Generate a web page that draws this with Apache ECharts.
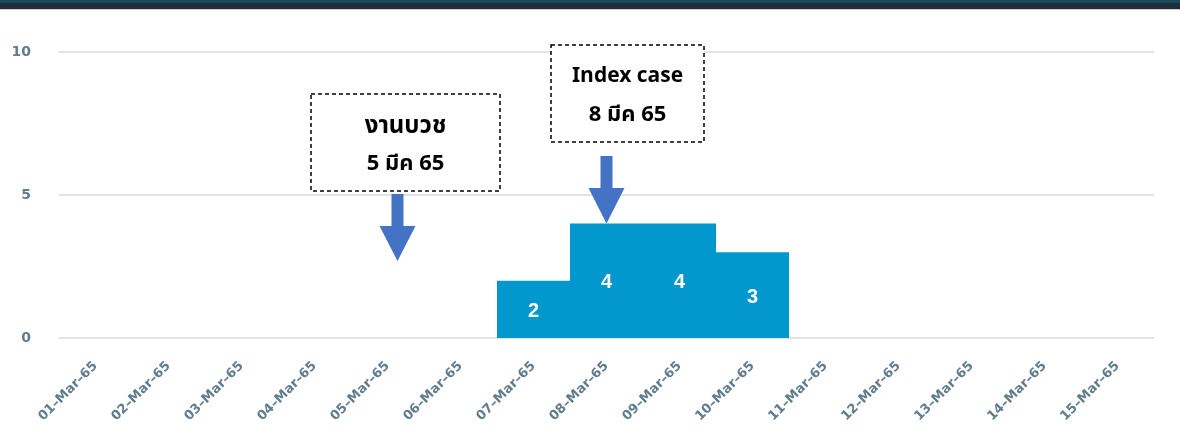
<!DOCTYPE html>
<html><head><meta charset="utf-8">
<script src="https://cdn.jsdelivr.net/npm/echarts@6/dist/echarts.min.js"></script>
<style>html,body{margin:0;padding:0;background:#fff}#c{width:1180px;height:429px}</style>
</head><body><div id="c"></div>
<script>
const categories = ['01–Mar–65','02–Mar–65','03–Mar–65','04–Mar–65','05–Mar–65','06–Mar–65','07–Mar–65','08–Mar–65','09–Mar–65','10–Mar–65','11–Mar–65','12–Mar–65','13–Mar–65','14–Mar–65','15–Mar–65'];
const cases = [null,null,null,null,null,null,2,4,4,3,null,null,null,null,null];
const yTicks = [0,5,10];
const notes = [
  {lines:['งานบวช','5 มีค 65'], cat:'05–Mar–65'},
  {lines:['Index case','8 มีค 65'], cat:'08–Mar–65'}
];

const chart = echarts.init(document.getElementById('c'), null, {renderer:'canvas'});
const thaiFont = '"Noto Sans Thai","Noto Sans","Liberation Sans",sans-serif';
chart.setOption({
  animation:false,
  grid:{left:59,right:26,top:52,bottom:91},
  xAxis:{type:'category',data:categories,
    axisLine:{show:false},axisTick:{show:false},
    axisLabel:{rotate:45,margin:26,color:'#5f7d8e',fontSize:13,fontWeight:'bold',fontFamily:'"DejaVu Sans",sans-serif',interval:0}},
  yAxis:{type:'value',min:yTicks[0],max:yTicks[yTicks.length-1],interval:5,
    axisLabel:{color:'#5f7d8e',fontSize:14,fontWeight:'bold',margin:28,fontFamily:'"DejaVu Sans",sans-serif'},
    splitLine:{lineStyle:{color:'#e0e4e7',width:2}}},
  series:[{type:'bar',data:cases,barCategoryGap:'0%',
    itemStyle:{color:'#0398cd'},
    label:{show:true,position:'inside',offset:[0,2],color:'#fff',fontSize:20,fontWeight:'bold',fontFamily:'"Liberation Sans",Arial,sans-serif'}}]
});

function arrow(cx, top, headStart, tip){
  return {type:'polygon',shape:{points:[[cx-6,top],[cx+6,top],[cx+6,headStart],[cx+18,headStart],[cx,tip],[cx-18,headStart],[cx-6,headStart]]},
    style:{fill:'#4472c4'}};
}
function box(cx, y0, w, h, lines, ly, sizes){
  const els=[{type:'rect',shape:{x:cx-w/2,y:y0,width:w,height:h},style:{fill:'#fff',stroke:'#000',lineWidth:1.5,lineDash:[4,3]}}];
  lines.forEach((t,i)=>els.push({type:'text',x:cx,y:ly[i],style:{text:t,fill:'#000',font:'bold '+sizes[i]+'px '+thaiFont,align:'center',verticalAlign:'middle'}}));
  return els;
}
const x1 = chart.convertToPixel({xAxisIndex:0},notes[0].cat);
const x2 = chart.convertToPixel({xAxisIndex:0},notes[1].cat);
const y4 = chart.convertToPixel({yAxisIndex:0},4);
const g = [
  {type:'rect',shape:{x:0,y:0,width:1180,height:3},style:{fill:'#1c4b5d'}},
  {type:'rect',shape:{x:0,y:3,width:1180,height:6},style:{fill:'#222c3a'}},
  {type:'rect',shape:{x:0,y:9,width:1180,height:1},style:{fill:'#c9cdd2'}},
  ...box(x1+18,94,189,97,notes[0].lines,[128,166],[24,22]),
  ...box(x2+21,45,153,97,notes[1].lines,[78,117],[21,22]),
  arrow(x1+10,194,226,261),
  arrow(x2,156,188,y4)
];
chart.setOption({graphic:g});
</script></body></html>
